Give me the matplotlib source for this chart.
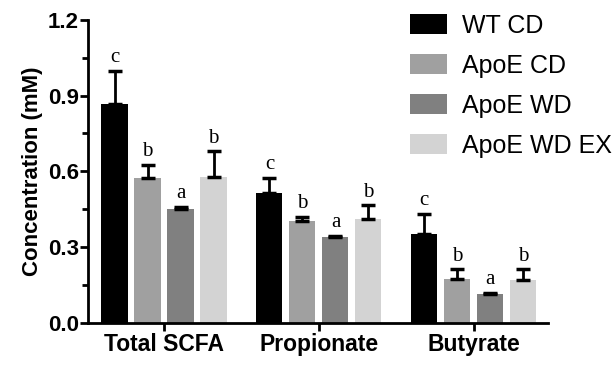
import numpy as np
import matplotlib.pyplot as plt
from matplotlib.ticker import MultipleLocator

groups = ["Total SCFA", "Propionate", "Butyrate"]
series = ["WT CD", "ApoE CD", "ApoE WD", "ApoE WD EX"]
colors = ["#000000", "#a0a0a0", "#808080", "#d3d3d3"]

means = {
    "WT CD":      [0.868, 0.516, 0.354],
    "ApoE CD":    [0.573, 0.404, 0.174],
    "ApoE WD":    [0.453, 0.342, 0.116],
    "ApoE WD EX": [0.579, 0.413, 0.171],
}
errors = {
    "WT CD":      [0.131, 0.058, 0.079],
    "ApoE CD":    [0.054, 0.016, 0.038],
    "ApoE WD":    [0.005, 0.003, 0.004],
    "ApoE WD EX": [0.100, 0.052, 0.041],
}
letters = {
    "WT CD":      ["c", "c", "c"],
    "ApoE CD":    ["b", "b", "b"],
    "ApoE WD":    ["a", "a", "a"],
    "ApoE WD EX": ["b", "b", "b"],
}

plt.rcParams["font.family"] = ["Liberation Sans", "DejaVu Sans"]

fig = plt.figure(figsize=(6.16, 3.65), dpi=100)
ax = fig.add_axes([0.143, 0.115, 0.747, 0.831])

x = np.arange(len(groups))
pitch = 0.213
width = 0.168
offsets = (np.arange(len(series)) - 1.5) * pitch

for i, s in enumerate(series):
    xs = x + offsets[i]
    ax.bar(xs, means[s], width, color=colors[i], label=s, zorder=2)
    ax.errorbar(xs, means[s], yerr=[np.zeros(len(groups)), errors[s]],
                fmt="none", ecolor="black", elinewidth=2, capsize=4.7,
                capthick=2.5, zorder=3)
    for xi, m, e, t in zip(xs, means[s], errors[s], letters[s]):
        ax.text(xi, m + e + 0.015, t, ha="center", va="bottom",
                fontsize=15, family=["Liberation Serif", "DejaVu Serif"])

ax.set_xlim(-0.49, 2.48)
ax.set_ylim(0, 1.2)
ax.yaxis.set_major_locator(MultipleLocator(0.3))
ax.yaxis.set_minor_locator(MultipleLocator(0.15))
ax.set_yticklabels([f"{v:.1f}" for v in ax.get_yticks()])
ax.set_xticks(x)
ax.set_xticklabels(groups, fontsize=16.5, fontweight="bold")
for lab in ax.get_yticklabels():
    lab.set_fontsize(16)
    lab.set_fontweight("bold")
ax.set_ylabel("Concentration (mM)", fontsize=16, fontweight="bold", labelpad=4)

for side in ["top", "right"]:
    ax.spines[side].set_visible(False)
for side in ["left", "bottom"]:
    ax.spines[side].set_linewidth(2)
ax.tick_params(axis="both", which="major", width=2, length=6, pad=1.5)
ax.tick_params(axis="y", which="major", pad=0.5)
ax.tick_params(axis="y", which="minor", width=2, length=4)

fig.legend(loc="upper left", bbox_to_anchor=(0.650, 0.99), frameon=False,
           fontsize=18, handlelength=1.48, handleheight=0.8,
           handletextpad=0.58, labelspacing=0.64, borderaxespad=0)

fig.savefig("out.png", dpi=100)
